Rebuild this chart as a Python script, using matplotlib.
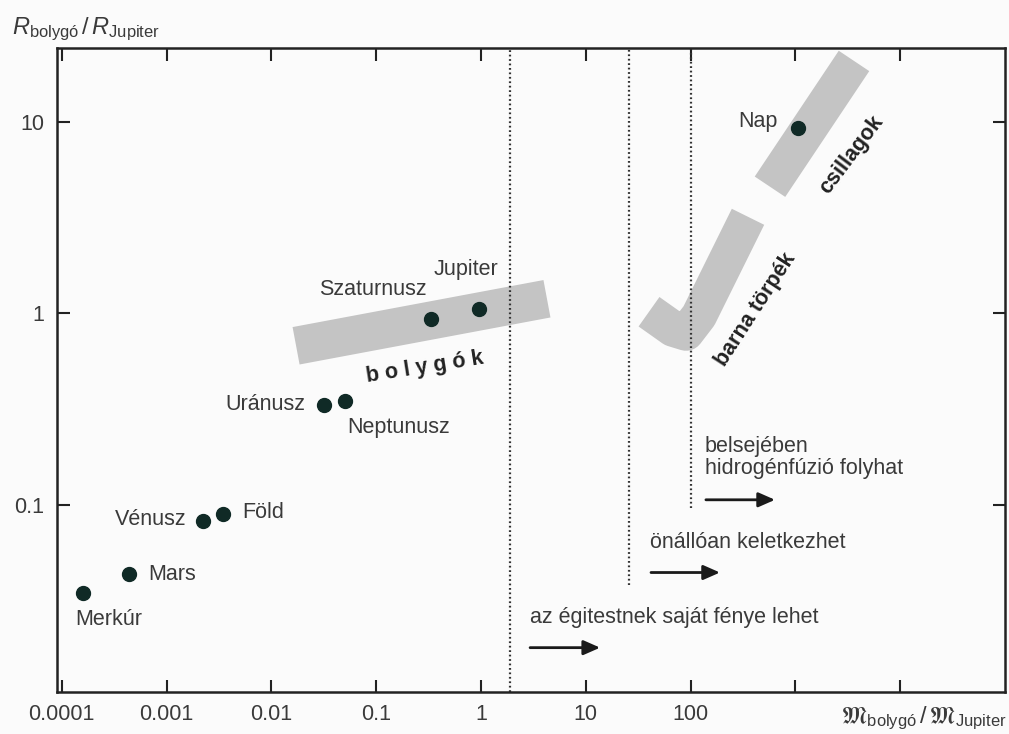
import matplotlib.pyplot as plt
from matplotlib import font_manager
from matplotlib.ticker import NullLocator

# egitestek: tomeg es sugar Jupiter-egysegben (a kepről leolvasva)
nevek = ['Merkúr', 'Mars', 'Vénusz', 'Föld', 'Uránusz', 'Neptunusz',
         'Szaturnusz', 'Jupiter', 'Nap']
tomeg = [1.59e-4, 4.4e-4, 2.22e-3, 3.45e-3, 0.032, 0.050, 0.333, 0.957, 1060]
sugar = [0.0347, 0.0436, 0.0825, 0.0897, 0.333, 0.349, 0.936, 1.056, 9.3]

# szurke savok kozepvonala
bolygo_sav_x = [0.0172, 4.26]
bolygo_sav_y = [0.676, 1.19]
csillag_sav_x = [572, 3624]
csillag_sav_y = [4.58, 20.8]
barna_sav_x = [353, 120.3, 90.4, 67.9, 40.1]
barna_sav_y = [3.19, 0.970, 0.791, 0.830, 1.018]

# hatarvonalak (tomeg) es also vegpontjuk
hatar_x = [1.9, 26, 100]
hatar_also = [0.0105, 0.038, 0.096]

x_ticks = [1e-4, 1e-3, 1e-2, 1e-1, 1, 10, 100, 1e3, 1e4]
x_labels = ['0.0001', '0.001', '0.01', '0.1', '1', '10', '100', '', '']
y_ticks = [0.1, 1, 10]
y_labels = ['0.1', '1', '10']

fonts = {f.name for f in font_manager.fontManager.ttflist}
if 'Liberation Sans Narrow' in fonts:
    FONT, FS = 'Liberation Sans Narrow', 18.5
else:
    FONT, FS = 'Liberation Sans', 15.5

plt.rcParams['font.family'] = [FONT, 'DejaVu Sans']
plt.rcParams['mathtext.fontset'] = 'custom'
plt.rcParams['mathtext.rm'] = FONT
plt.rcParams['mathtext.it'] = FONT + ':italic'
plt.rcParams['mathtext.fallback'] = 'stix'

TXT = '#3a3a3a'
GRAY = '#c4c4c4'

fig = plt.figure(figsize=(10.09, 7.34), dpi=100, facecolor='#fbfbfb')
ax = fig.add_axes([57 / 1009, 1 - 692 / 734, 948 / 1009, 644 / 734])
ax.set_facecolor('#fbfbfb')
ax.set_xscale('log')
ax.set_yscale('log')
ax.set_xlim(9e-5, 1e5)
ax.set_ylim(0.0105, 24.3)

# savok
ax.plot(bolygo_sav_x, bolygo_sav_y, color=GRAY, lw=27.4, solid_capstyle='butt', zorder=1)
ax.plot(csillag_sav_x, csillag_sav_y, color=GRAY, lw=26.4, solid_capstyle='butt', zorder=1)
ax.plot(barna_sav_x, barna_sav_y, color=GRAY, lw=26, solid_capstyle='butt',
        solid_joinstyle='round', zorder=1)

# hatarvonalak
ax.vlines(hatar_x, hatar_also, 24.3, colors='#333333', lw=1.6,
          linestyles=(0, (0.8, 1.2)), zorder=2)

# pontok
ax.plot(tomeg, sugar, 'o', color='#102a26', ms=10, zorder=4)

eltolas = {
    'Merkúr': (26, -27, 'center'), 'Mars': (19, -1, 'left'),
    'Vénusz': (-16, 1, 'right'), 'Föld': (19, 1, 'left'),
    'Uránusz': (-19, 0, 'right'), 'Neptunusz': (3, -27, 'left'),
    'Szaturnusz': (-4, 29, 'right'), 'Jupiter': (-13, 39, 'center'),
    'Nap': (-20, 6, 'right'),
}
for n, x, y in zip(nevek, tomeg, sugar):
    dx, dy, ha = eltolas[n]
    ax.annotate(n, (x, y), xytext=(dx, dy), textcoords='offset pixels',
                ha=ha, va='center', fontsize=FS, color=TXT)

# sav feliratok
ax.text(0.292, 0.519, 'b o l y g ó k', rotation=9, rotation_mode='anchor',
        ha='center', va='center', fontsize=FS, fontweight='bold', color='#222222')
ax.text(3467, 6.72, 'csillagok', rotation=53, rotation_mode='anchor',
        ha='center', va='center', fontsize=FS, fontweight='bold', color='#222222')
ax.text(421, 1.04, 'barna törpék', rotation=57, rotation_mode='anchor',
        ha='center', va='center', fontsize=FS, fontweight='bold', color='#222222')

# nyilak es szovegek
nyil = dict(arrowstyle='-|>,head_length=0.5,head_width=0.22', color='#1a1a1a',
            lw=2, shrinkA=0, shrinkB=0, mutation_scale=20)
ax.annotate('', xy=(13.7, 0.0179), xytext=(2.94, 0.0179), arrowprops=nyil)
ax.annotate('', xy=(190.7, 0.0442), xytext=(41.9, 0.0442), arrowprops=nyil)
ax.annotate('', xy=(639, 0.106), xytext=(140, 0.106), arrowprops=nyil)
ax.text(2.94, 0.0257, 'az égitestnek saját fénye lehet', ha='left', va='center',
        fontsize=FS, color=TXT)
ax.text(41, 0.0633, 'önállóan keletkezhet', ha='left', va='center',
        fontsize=FS, color=TXT)
ax.text(137, 0.177, 'belsejében\nhidrogénfúzió folyhat', ha='left', va='center',
        fontsize=FS, color=TXT, linespacing=1.05)

# tengelyek
ax.set_xticks(x_ticks)
ax.set_xticklabels(x_labels)
ax.set_yticks(y_ticks)
ax.set_yticklabels(y_labels)
ax.xaxis.set_minor_locator(NullLocator())
ax.yaxis.set_minor_locator(NullLocator())
ax.tick_params(which='both', direction='in', top=True, right=True, length=9,
               width=1.5, color='#222222', labelsize=FS, labelcolor=TXT)
ax.tick_params(axis='x', pad=9)
ax.tick_params(axis='y', pad=9)
for s in ax.spines.values():
    s.set_linewidth(1.8)
    s.set_color('#222222')

fig.text(12 / 1009, 1 - 34 / 734, r'$R_{\mathrm{bolygó}}\,/\,R_{\mathrm{Jupiter}}$',
         ha='left', va='baseline', fontsize=17, color=TXT)
fig.text(1007 / 1009, 1 - 718 / 734,
         r'$\mathfrak{M}_{\mathrm{bolygó}}\,/\,\mathfrak{M}_{\mathrm{Jupiter}}$',
         ha='right', va='center', fontsize=17, color=TXT)

fig.savefig('out.png', dpi=100, facecolor=fig.get_facecolor())
